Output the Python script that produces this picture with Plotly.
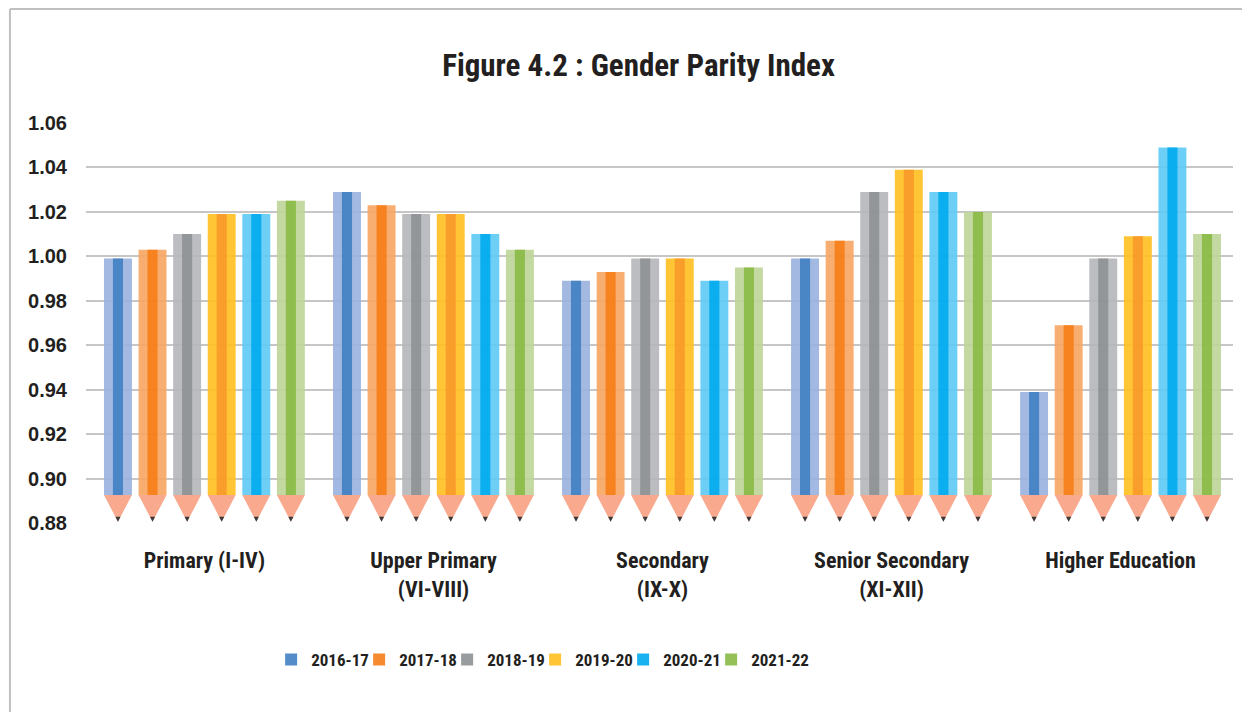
import plotly.graph_objects as go

# ---------------- data ----------------
categories = ["Primary (I-IV)", "Upper Primary<br>(VI-VIII)", "Secondary<br>(IX-X)",
              "Senior Secondary<br>(XI-XII)", "Higher Education"]
years = ["2016-17", "2017-18", "2018-19", "2019-20", "2020-21", "2021-22"]

gpi_2016_17 = [0.999, 1.029, 0.989, 0.999, 0.939]
gpi_2017_18 = [1.003, 1.023, 0.993, 1.007, 0.969]
gpi_2018_19 = [1.010, 1.019, 0.999, 1.029, 0.999]
gpi_2019_20 = [1.019, 1.019, 0.999, 1.039, 1.009]
gpi_2020_21 = [1.019, 1.010, 0.989, 1.029, 1.049]
gpi_2021_22 = [1.025, 1.003, 0.995, 1.020, 1.010]

y_tick_values = [0.88, 0.90, 0.92, 0.94, 0.96, 0.98, 1.00, 1.02, 1.04, 1.06]
y_tick_labels = ["0.88", "0.90", "0.92", "0.94", "0.96", "0.98", "1.00", "1.02", "1.04", "1.06"]

series = [gpi_2016_17, gpi_2017_18, gpi_2018_19, gpi_2019_20, gpi_2020_21, gpi_2021_22]

# ---------------- styles ----------------
light_colors = ["#A3B9E1", "#F9AE72", "#BCBDC0", "#FFC535", "#6DCFF6", "#C4D9A1"]
dark_colors = ["#4A86C6", "#F58220", "#939598", "#F99D2A", "#00AEEF", "#8FBC4E"]
legend_on_outer = [False, False, False, True, False, False]
TIP_COLOR = "#F9A98E"
LEAD_COLOR = "#3A3A3A"
ALPHA = 0.9  # lets the gridlines show faintly through the pencils, as in the original

BODY_BASE = 0.8926   # where the pencil body ends
TIP_END = 0.8806     # pencil point
LEAD_TOP = 0.8828
STEP = 0.151
OUTER_W = 0.122
INNER_W = 0.044

NARROW = "Liberation Sans Narrow, Arial Narrow, Roboto Condensed, Liberation Sans, Arial, sans-serif"
WIDE = "Liberation Sans, Arial, sans-serif"
TEXT_COLOR = "#231F20"


def hex_rgb(h):
    h = h.lstrip("#")
    return [int(h[k:k + 2], 16) for k in (0, 2, 4)]


def see_through(target, under):
    """rgba colour that, painted with ALPHA over `under`, gives `target`."""
    c = [min(255, max(0, round((t - (1 - ALPHA) * u) / ALPHA))) for t, u in zip(target, under)]
    return "rgba(%d,%d,%d,%.2f)" % (c[0], c[1], c[2], ALPHA)


fig = go.Figure()

tip_x, tip_y, lead_x, lead_y = [], [], [], []
lead_frac = (LEAD_TOP - TIP_END) / (BODY_BASE - TIP_END)

for j, (year, vals) in enumerate(zip(years, series)):
    xs = [i + (j - 2.5) * STEP for i in range(len(categories))]
    heights = [v - BODY_BASE for v in vals]
    light_rgb = hex_rgb(light_colors[j])
    fig.add_trace(go.Bar(
        x=xs, y=heights, base=BODY_BASE, width=OUTER_W,
        marker=dict(color=see_through(light_rgb, [255, 255, 255]), line_width=0),
        name=year, showlegend=legend_on_outer[j], legendrank=j + 1,
        hoverinfo="skip",
    ))
    fig.add_trace(go.Bar(
        x=xs, y=heights, base=BODY_BASE, width=INNER_W,
        marker=dict(color=see_through(hex_rgb(dark_colors[j]), light_rgb), line_width=0),
        name=year, showlegend=not legend_on_outer[j], legendrank=j + 1,
        hoverinfo="skip",
    ))
    for x in xs:
        tip_x += [x - OUTER_W / 2, x + OUTER_W / 2, x, x - OUTER_W / 2, None]
        tip_y += [BODY_BASE, BODY_BASE, TIP_END, BODY_BASE, None]
        hw = OUTER_W / 2 * lead_frac
        lead_x += [x - hw, x + hw, x, x - hw, None]
        lead_y += [LEAD_TOP, LEAD_TOP, TIP_END, LEAD_TOP, None]

fig.add_trace(go.Scatter(x=tip_x, y=tip_y, mode="lines", fill="toself",
                         fillcolor=TIP_COLOR, line=dict(width=0, color=TIP_COLOR),
                         showlegend=False, hoverinfo="skip"))
fig.add_trace(go.Scatter(x=lead_x, y=lead_y, mode="lines", fill="toself",
                         fillcolor=LEAD_COLOR, line=dict(width=0, color=LEAD_COLOR),
                         showlegend=False, hoverinfo="skip"))
# empty spacer entry so the last legend label is not clipped
fig.add_trace(go.Bar(x=[None], y=[None], name=" ",
                     marker=dict(color="rgba(255,255,255,0)",
                                 line=dict(width=0, color="rgba(255,255,255,0)")),
                     showlegend=True, legendrank=99, hoverinfo="skip"))

fig.update_layout(
    width=1242, height=704,
    margin=dict(l=78, r=17, t=115, b=189),
    paper_bgcolor="white", plot_bgcolor="white",
    barmode="overlay",
    title=dict(text="Figure 4.2 : Gender Parity Index", x=0.5077, xanchor="center",
               y=1 - 57 / 704, yanchor="middle", yref="container",
               font=dict(family=NARROW, size=31, color=TEXT_COLOR, weight="bold")),
    xaxis=dict(range=[-0.517, 4.491], tickmode="array",
               tickvals=list(range(len(categories))), ticktext=categories,
               showgrid=False, zeroline=False, showline=False, ticks="",
               ticklabelstandoff=22,
               tickfont=dict(family=NARROW, size=22, color=TEXT_COLOR, weight="bold")),
    yaxis=dict(range=[0.88, 1.06], tickmode="array",
               tickvals=y_tick_values, ticktext=y_tick_labels,
               showgrid=True, gridcolor="#C6C6C6", gridwidth=1.6,
               zeroline=False, showline=False, ticks="",
               ticklabelstandoff=18,
               tickfont=dict(family=WIDE, size=20, color=TEXT_COLOR, weight="bold")),
    legend=dict(orientation="h", x=0.1614, xanchor="left", y=-0.3425, yanchor="middle",
                font=dict(family=NARROW, size=17, color=TEXT_COLOR, weight="bold"),
                entrywidth=43, entrywidthmode="pixels",
                traceorder="normal", itemclick=False),
    shapes=[
        dict(type="line", xref="paper", yref="paper", x0=-0.0663, x1=1.03, y0=1.285, y1=1.285,
             line=dict(color="#BFBFBF", width=2)),
        dict(type="line", xref="paper", yref="paper", x0=-0.0663, x1=-0.0663, y0=1.285, y1=-0.48,
             line=dict(color="#BFBFBF", width=2)),
    ],
)

fig.write_html("out.html")
